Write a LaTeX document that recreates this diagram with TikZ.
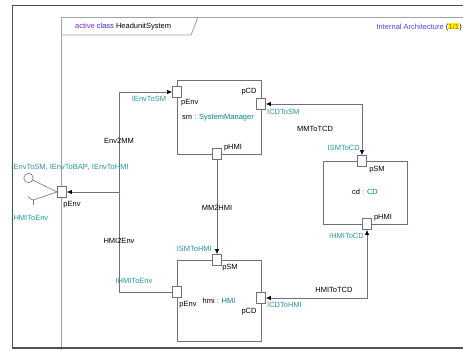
\documentclass[tikz,border=0pt]{standalone}
\usepackage{fontspec}
\setmainfont{Liberation Sans}
\usetikzlibrary{arrows.meta,shadows,calc}
\definecolor{ifc}{RGB}{40,150,150}
\definecolor{inst}{RGB}{0,130,140}
\definecolor{kwpurple}{RGB}{130,40,200}
\definecolor{kwblue}{RGB}{40,40,220}
\definecolor{archblue}{RGB}{90,60,230}
\definecolor{pagebrown}{RGB}{150,110,0}
\definecolor{linegray}{RGB}{115,110,125}
\definecolor{framedark}{RGB}{80,80,80}
\definecolor{framelight}{RGB}{160,160,165}
\tikzset{
  lbl/.style={font=\fontsize{7.5}{8}\selectfont, inner sep=0pt},
  ifclbl/.style={lbl, text=ifc},
  partbox/.style={draw=linegray, line width=0.8pt, fill=white, inner sep=0pt,
    drop shadow={shadow xshift=1pt, shadow yshift=-1pt, fill=gray!70, opacity=1}},
  portbox/.style={draw=linegray, line width=0.7pt, fill=white, inner sep=0pt,
    minimum width=9pt, minimum height=11pt,
    drop shadow={shadow xshift=0.8pt, shadow yshift=-0.8pt, fill=gray!80, opacity=1}},
  conn/.style={draw=linegray, line width=0.7pt},
  tip/.tip={Latex[length=5pt,width=4.5pt,color=black]}
}
\begin{document}
\begin{tikzpicture}[x=1pt,y=-1pt]
\useasboundingbox (0,0) rectangle (463,350);
\begin{scope}
\clip (0,0) rectangle (463,350);
% parts
\node[partbox, minimum width=84pt, minimum height=74pt] (sm) at (219,117) {};
\node[partbox, minimum width=84pt, minimum height=63pt] (cd) at (365,192.5) {};
\node[partbox, minimum width=84pt, minimum height=81pt] (hmi) at (219,300.5) {};
% inner frame
\draw[framelight, line width=0.8pt] (61,352) -- (61,17) -- (466,17);
\draw[framelight, line width=0.8pt] (61,35) -- (191,35) -- (198,17);
\node[lbl, anchor=west] (title) at (75,26.5) {\textcolor{kwpurple}{active} \textcolor{kwblue}{class} HeadunitSystem};
\node[lbl, anchor=east] (arch) at (462,27) {\textcolor{archblue}{Internal Architecture} (\fboxsep=0.3pt\colorbox{yellow}{\textcolor{pagebrown}{1/1}})};
% connectors
\coordinate (j1) at (119,92);
\coordinate (j2) at (119,192);
\coordinate (j3) at (119,292);
\coordinate (lolli) at (28.5,178);
\coordinate (sock) at (33,200);
% ports
\node[portbox] (smEnv) at (177,92) {};
\node[portbox] (smCD) at (261,104) {};
\node[portbox] (smHMI) at (217,154) {};
\node[portbox] (cdSM) at (362,161) {};
\node[portbox] (cdHMI) at (367,224) {};
\node[portbox] (hmiSM) at (217,260) {};
\node[portbox] (hmiEnv) at (177,292) {};
\node[portbox] (hmiCD) at (261,298) {};
\node[portbox] (envP) at (62,192) {};
% connections
\draw[conn, -tip] (j2) -- (j1) -- (smEnv.west);
\draw[conn, -tip] (j2) -- (envP.east);
\draw[conn] (j2) -- (j3) -- (hmiEnv.west);
\draw[conn, tip-tip] (smCD.east) -| (cdSM.north);
\draw[conn, -tip] (smHMI.south) -- (hmiSM.north);
\draw[conn, tip-tip] (hmiCD.east) -| (cdHMI.south);
% provided / required interfaces
\draw[linegray, line width=0.6pt] (lolli) circle (4.7);
\draw[linegray, line width=0.6pt] (envP.west) -- ($(lolli)!4.7pt!(envP.west)$);
\draw[linegray, line width=0.6pt] (envP.west) -- (sock) .. controls (30,199) and (28.5,198) .. (28,196);
\draw[linegray, line width=0.6pt] (sock) -- (33,205);
% labels
\node[ifclbl] (lIEnvToSM) at (149,99) {IEnvToSM};
\node[lbl, anchor=west] (lsmEnv) at (181,103) {pEnv};
\node[lbl] (lsm) at (218,118) {sm \textcolor{kwpurple}{:} \textcolor{inst}{SystemManager}};
\node[lbl] (lsmCD) at (249,92) {pCD};
\node[ifclbl, anchor=west] (lICDToSM) at (267,112) {ICDToSM};
\node[lbl] (lsmHMI) at (233,148) {pHMI};
\node[lbl] (lMMToTCD) at (315,129) {MMToTCD};
\node[lbl] (lEnv2MM) at (119,141) {Env2MM};
\node[lbl] (lMM2HMI) at (217,208) {MM2HMI};
\node[lbl] (lenvP) at (72,205) {pEnv};
\node[lbl] (lHMI2Env) at (119,241) {HMI2Env};
\node[ifclbl] (lIHMIToEnv) at (134,281) {IHMIToEnv};
\node[ifclbl, anchor=east] (lISMToHMI) at (212,249) {ISMToHMI};
\node[lbl] (lhmiSM) at (230,268) {pSM};
\node[lbl] (lhmiEnv) at (188,305) {pEnv};
\node[lbl] (lhmi) at (219,301) {hmi \textcolor{kwpurple}{:} \textcolor{inst}{HMI}};
\node[lbl] (lhmiCD) at (249,312) {pCD};
\node[ifclbl, anchor=west] (lICDToHMI) at (267,305) {ICDToHMI};
\node[lbl] (lHMIToTCD) at (334,290) {HMIToTCD};
\node[ifclbl, anchor=east] (lISMToCD) at (360,148) {ISMToCD};
\node[lbl] (lcdSM) at (377,170) {pSM};
\node[lbl] (lcd) at (365,192) {cd \textcolor{kwpurple}{:} \textcolor{inst}{CD}};
\node[lbl] (lcdHMI) at (383,218) {pHMI};
\node[ifclbl, anchor=east] (lIHMIToCD) at (364,236) {IHMIToCD};
\node[ifclbl, anchor=west] (lprov) at (11.3,167) {IEnvToSM\textcolor{kwpurple}{,} IEnvToBAP\textcolor{kwpurple}{,} IEnvToHMI};
\node[ifclbl, anchor=west] (lreq) at (11.3,218) {IHMIToEnv};
% outer frame
\draw[framedark, line width=1.6pt] (12.5,5.5) rectangle (480,348);
\end{scope}
\end{tikzpicture}
\end{document}
